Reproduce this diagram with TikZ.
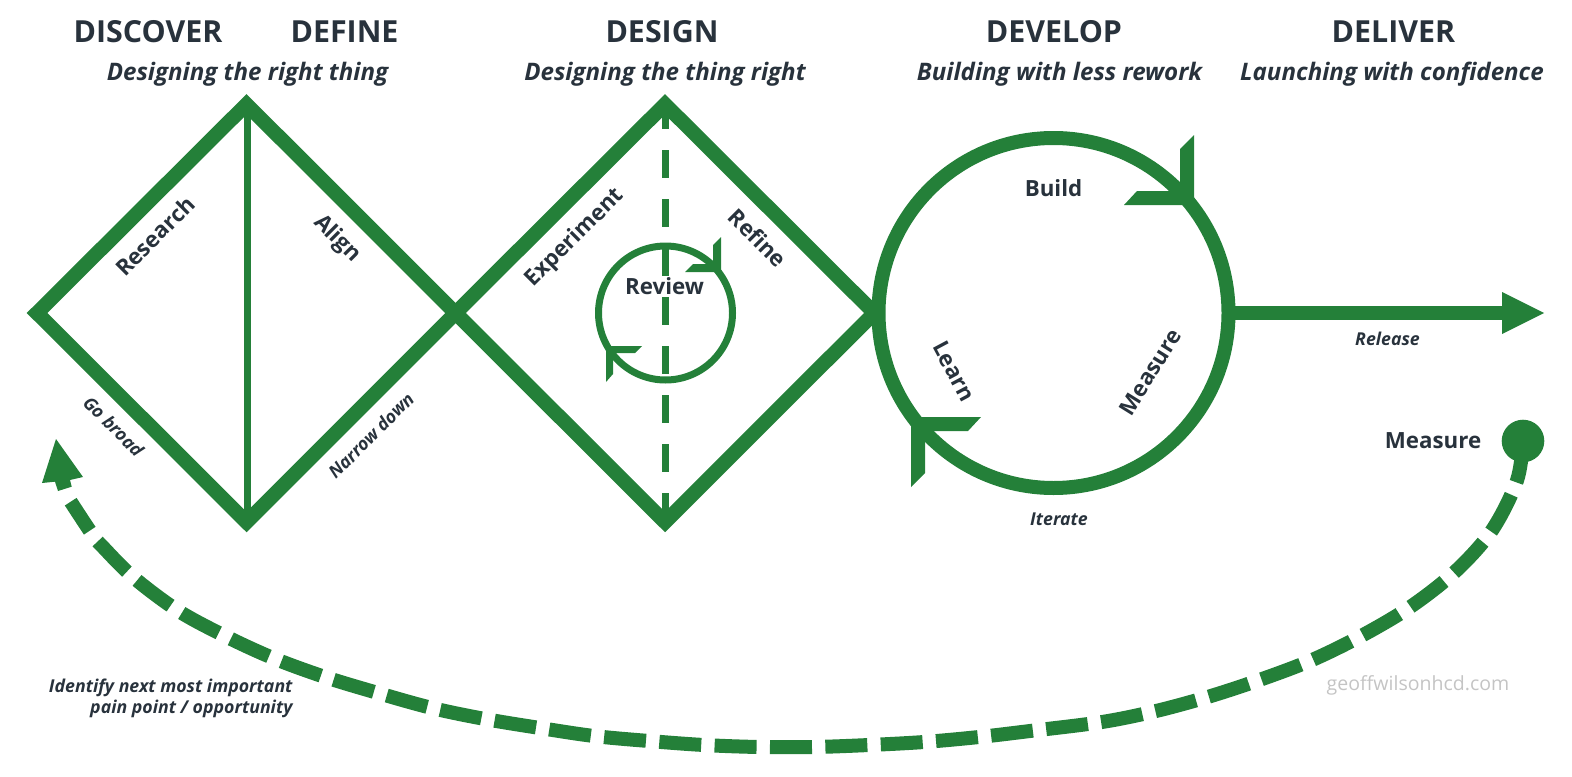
\documentclass[tikz,border=0pt]{standalone}
\usepackage{fontspec}
\setmainfont{Open Sans}
\definecolor{grn}{HTML}{248039}
\definecolor{ink}{HTML}{28323C}
\definecolor{wm}{HTML}{C4C4C4}
\newcommand{\fs}[1]{\fontsize{#1}{#1}\selectfont}
\tikzset{
  x=1bp,y=-1bp,
  every node/.style={inner sep=0pt,outer sep=0pt,text=ink,font=\bfseries},
  heading/.style={font=\fs{30.5}\bfseries},
  sub/.style={font=\fs{24.2}\bfseries\itshape},
  lab/.style={font=\fs{22.4}\bfseries},
  small/.style={font=\fs{17.8}\bfseries\itshape},
  thick line/.style={draw=grn,line width=14.5bp,miter limit=10},
  dashline/.style={draw=grn,line width=14bp},
  fillg/.style={fill=grn,draw=none},
}
\begin{document}
\begin{tikzpicture}
\useasboundingbox (0,0) rectangle (1572,777);
% named anchor points
\coordinate (dL) at (37,313);
\coordinate (dT) at (246.5,104.3);
\coordinate (dM) at (455.5,313);
\coordinate (dB) at (246.5,522);
\coordinate (eT) at (665,104.3);
\coordinate (eR) at (874.3,313);
\coordinate (eB) at (665,522);
\coordinate (bigC) at (1053.5,313);
\coordinate (smC) at (665.5,313);
% diamonds
\draw[thick line,line join=miter] (dL)--(dT)--(dM)--(dB)--cycle;
\draw[thick line,line join=miter] (dM)--(eT)--(eR)--(eB)--cycle;
\draw[draw=grn,line width=6.7bp] (247.7,105)--(247.7,522);
\draw[draw=grn,line width=6.7bp,dash pattern=on 28bp off 21bp] (665.7,101)--(665.7,522);
% big circle
\draw[draw=grn,line width=14bp] (bigC) circle[radius=175];
\fill[fillg] (1194,135)--(1180,149)--(1180,191)--(1137,191)--(1124,205)--(1194,205)--cycle;
\fill[fillg] (981,417)--(968,431)--(925,431)--(925,473)--(911,487)--(911,417)--cycle;
% small circle
\draw[draw=grn,line width=7bp] (smC) circle[radius=67];
\fill[fillg] (721,237)--(713,245)--(713,264)--(693,264)--(685,272)--(721,272)--cycle;
\fill[fillg] (642,346)--(635,353)--(613,353)--(613,374)--(606,382)--(606,346)--cycle;
% release arrow
\coordinate (relS) at (1232,313);
\coordinate (relE) at (1502,313);
\draw[draw=grn,line width=14bp] (relS)--(relE);
\fill[fillg] (1502,292)--(1544,313)--(1502,334)--cycle;
% measure dot and feedback
\node[circle,fill=grn,minimum size=42.6bp] (dot) at (1523,441) {};
\coordinate (fbE) at (70.7,501.7);
\draw[dashline,dash pattern=on 42bp off 13.4bp]
  plot[smooth,tension=0.55] coordinates {(dot.center) (1516.8,481) (1491.5,531) (1454.3,572.4) (1410.3,606.9) (1363,635) (1313,659.6) (1261.6,679.2) (1209.2,696.5) (1156,711) (1102,722) (1030,731) (979,737) (924,742) (869,745) (814,747) (759,747) (704,745) (649,741) (594,736) (540,728) (485,719) (432,708) (378,693) (325,677) (273,658) (223,635) (177,610) (133,577) (102,546) (92.7,535) (fbE)};
\fill[fillg] (56,439)--(83,477)--(70,480)--(71.7,486.7)--(58,491)--(55,481.7)--(42,483)--cycle;
% headings
\node[heading] (h1) at (148,32) {DISCOVER};
\node[heading] (h2) at (344.5,32) {DEFINE};
\node[heading] (h3) at (662,32) {DESIGN};
\node[heading] (h4) at (1054,32) {DEVELOP};
\node[heading] (h5) at (1393.5,32) {DELIVER};
\node[sub] (s1) at (247.5,74) {Designing the right thing};
\node[sub] (s2) at (665,74) {Designing the thing right};
\node[sub] (s3) at (1059.5,74) {Building with less rework};
\node[sub] (s4) at (1392,74) {Launching with confidence};
% labels
\node[lab,rotate=45] (research) at (155,236) {Research};
\node[lab,rotate=-45] (align) at (337,239) {Align};
\node[lab,rotate=45] (experiment) at (575,238) {Experiment};
\node[lab,rotate=-45] (refine) at (758,238) {Refine};
\node[lab] (review) at (664.5,286.5) {Review};
\node[lab] (build) at (1053.5,188.5) {Build};
\node[lab,rotate=58] (measure1) at (1150.5,372) {Measure};
\node[lab,rotate=-62] (learn) at (954,371) {Learn};
\node[lab] (measure2) at (1433,441) {Measure};
\node[small,rotate=-45] (gobroad) at (113.5,426.5) {Go broad};
\node[small,rotate=45] (narrow) at (371,435.5) {Narrow down};
\node[small] (release) at (1387.5,339) {Release};
\node[small] (iterate) at (1059,519.5) {Iterate};
\node[font=\fontsize{17.8}{21.5}\selectfont\bfseries\itshape,align=right,anchor=east] (next) at (292.5,698.5) {Identify next most important\\pain point / opportunity};
\node[font=\fs{19.6}\mdseries,text=wm] (wmark) at (1418,685.5) {geoffwilsonhcd.com};
\end{tikzpicture}
\end{document}
